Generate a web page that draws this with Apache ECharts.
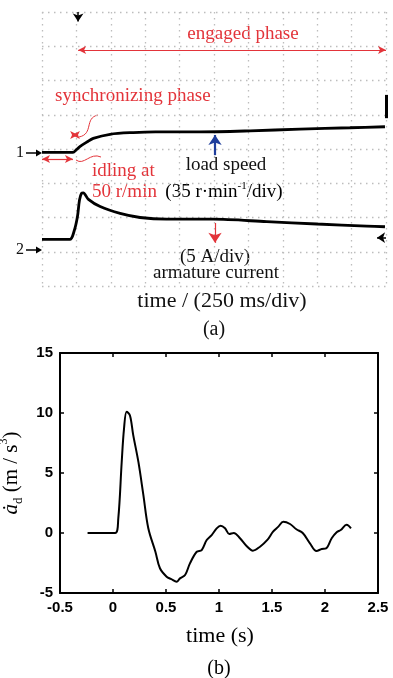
<!DOCTYPE html>
<html>
<head>
<meta charset="utf-8">
<script src="https://cdn.jsdelivr.net/npm/echarts@6/dist/echarts.min.js"></script>
<style>
  html, body { margin: 0; padding: 0; background: #fff; }
  #chart { width: 393px; height: 678px; }
</style>
</head>
<body>
<div id="chart"></div>
<script>
// (a) oscilloscope traces, in screen divisions (10 x 8)
const speedT = [0, 0.9, 1.0, 1.1, 1.3, 1.49, 1.98, 2.65, 3.3, 4.59, 6.05, 7.5, 8.95, 9.97]
const speedV = [3.9, 3.9, 3.98, 4.07, 4.2, 4.31, 4.43, 4.48, 4.5, 4.5, 4.53, 4.58, 4.62, 4.65]
const currentT = [0, 0.81, 0.93, 1.03, 1.09, 1.15, 1.2, 1.35, 1.69, 2.27, 2.85, 3.62, 4.98, 6.53, 7.99, 9.44, 9.97]
const currentV = [1.36, 1.36, 1.59, 2.02, 2.51, 2.71, 2.72, 2.53, 2.32, 2.12, 2.0, 1.95, 1.95, 1.88, 1.81, 1.75, 1.73]

// (b) jerk of the load
const timeS = [-0.24, 0.02, 0.05, 0.082, 0.104, 0.129, 0.16, 0.19, 0.24, 0.286, 0.333, 0.4, 0.443, 0.506, 0.55, 0.6, 0.632, 0.68, 0.726, 0.79, 0.837, 0.884, 0.931, 0.978, 1.016, 1.057, 1.097, 1.14, 1.198, 1.26, 1.32, 1.387, 1.456, 1.51, 1.56, 1.607, 1.67, 1.73, 1.79, 1.858, 1.92, 1.969, 2.01, 2.063, 2.11, 2.148, 2.204, 2.245]
const jerk = [0, 0, 1.22, 5.9, 8.7, 10.1, 9.8, 8.2, 5.9, 3.2, 0.39, -1.56, -2.94, -3.64, -3.85, -4.06, -3.78, -3.5, -2.53, -1.56, -1.42, -0.58, -0.17, 0.39, 0.61, 0.39, -0.08, 0, -0.44, -1.08, -1.47, -1.14, -0.58, 0.11, 0.53, 0.94, 0.75, 0.31, 0, -0.86, -1.5, -1.33, -1.28, -0.44, 0.06, 0.25, 0.69, 0.39]

const zip = (a, b) => a.map((v, i) => [v, b[i]])

const RED = '#e3343a'
const BLUE = '#1f3e9c'
const SERIF = '"Liberation Serif", "DejaVu Serif", serif'

const myChart = echarts.init(document.getElementById('chart'))

// 示波器网格
const scopeAxis = (max) => ({
  type: 'value',
  min: 0,
  max: max,
  interval: 1,
  axisLine: { show: false },
  axisTick: { show: false },
  axisLabel: { show: false },
  splitLine: {
    show: true,
    showMinLine: true,
    showMaxLine: true,
    lineStyle: { color: '#bdbdbd', type: [1.5, 4.5], width: 1.3 }
  }
})

const boxAxis = (extra) => Object.assign({
  type: 'value',
  axisLine: { show: true, onZero: false, lineStyle: { color: '#000', width: 2 } },
  axisTick: { show: true, inside: true, length: 4, lineStyle: { color: '#000', width: 1.5 } },
  splitLine: { show: false }
}, extra)

const tickLabel = {
  color: '#000',
  fontFamily: '"Liberation Sans", Arial, sans-serif',
  fontWeight: 'bold',
  fontSize: 15
}

const txt = (text, x, y, opt) => ({
  type: 'text',
  x: x,
  y: y,
  style: Object.assign({
    text: text,
    font: '19px ' + SERIF,
    fill: '#111',
    textAlign: 'center',
    textVerticalAlign: 'middle'
  }, opt || {})
})

const sideArrow = (label, y) => ({
  type: 'group',
  children: [
    txt(label, 20, y, { font: '16px ' + SERIF }),
    { type: 'line', shape: { x1: 26, y1: y, x2: 37, y2: y }, style: { stroke: '#000', lineWidth: 1.5 } },
    { type: 'polygon', shape: { points: [[36, y - 3.5], [42, y], [36, y + 3.5]] }, style: { fill: '#000' } }
  ]
})

const option = {
  animation: false,
  grid: [
    { left: 42, top: 12, width: 344, height: 274, outerBoundsMode: 'none', containLabel: false },
    { left: 60, top: 353, width: 318, height: 240, outerBoundsMode: 'none', containLabel: false }
  ],
  xAxis: [
    Object.assign(scopeAxis(10), { gridIndex: 0 }),
    boxAxis({
      gridIndex: 1, min: -0.5, max: 2.5, interval: 0.5, position: 'bottom',
      axisLabel: Object.assign({ margin: 7 }, tickLabel)
    }),
    boxAxis({ gridIndex: 1, min: -0.5, max: 2.5, interval: 0.5, position: 'top', axisLabel: { show: false } })
  ],
  yAxis: [
    Object.assign(scopeAxis(8), { gridIndex: 0 }),
    boxAxis({
      gridIndex: 1, min: -5, max: 15, interval: 5, position: 'left',
      axisLabel: Object.assign({ margin: 7 }, tickLabel),
      name: '{a|ȧ}{d|d}{n| (m / s}{s|3}{n|)}',
      nameLocation: 'middle',
      nameRotate: 90,
      nameGap: 34,
      nameTextStyle: {
        rich: {
          a: { fontFamily: SERIF, fontStyle: 'italic', fontSize: 21, color: '#000', lineHeight: 28 },
          d: { fontFamily: SERIF, fontSize: 13, color: '#000', lineHeight: 13, verticalAlign: 'bottom' },
          n: { fontFamily: SERIF, fontSize: 21, color: '#000', lineHeight: 28 },
          s: { fontFamily: SERIF, fontSize: 12, color: '#000', lineHeight: 12, verticalAlign: 'top' }
        }
      }
    }),
    boxAxis({ gridIndex: 1, min: -5, max: 15, interval: 5, position: 'right', axisLabel: { show: false } })
  ],
  series: [
    {
      name: 'load speed',
      type: 'line',
      xAxisIndex: 0,
      yAxisIndex: 0,
      data: zip(speedT, speedV),
      showSymbol: false,
      smooth: 0.3,
      lineStyle: { color: '#000', width: 2.8 }
    },
    {
      name: 'armature current',
      type: 'line',
      xAxisIndex: 0,
      yAxisIndex: 0,
      data: zip(currentT, currentV),
      showSymbol: false,
      smooth: 0.3,
      lineStyle: { color: '#000', width: 2.8 }
    },
    {
      // 红色标注箭头
      type: 'line',
      xAxisIndex: 0,
      yAxisIndex: 0,
      data: [],
      clip: false,
      markLine: {
        silent: true,
        symbol: ['arrow', 'arrow'],
        symbolSize: [6, 8],
        label: { show: false },
        lineStyle: { color: RED, width: 1.2, type: 'solid' },
        data: [
          [{ coord: [1.05, 6.89] }, { coord: [10, 6.89] }],
          [{ coord: [0, 3.71] }, { coord: [0.9, 3.71] }],
          [{ coord: [0.87, 4.41] }, { coord: [1.05, 4.41] }],
          [{ coord: [5.03, 1.84], symbol: 'none' }, { coord: [5.03, 1.26], symbol: 'arrow', symbolSize: 10 }]
        ]
      }
    },
    {
      // 蓝色箭头
      type: 'line',
      xAxisIndex: 0,
      yAxisIndex: 0,
      data: [],
      clip: false,
      markLine: {
        silent: true,
        symbol: ['none', 'arrow'],
        symbolSize: 10,
        label: { show: false },
        lineStyle: { color: BLUE, width: 2.2, type: 'solid' },
        data: [[{ coord: [5.03, 3.82] }, { coord: [5.03, 4.41] }]]
      }
    },
    {
      // 黑色标记
      type: 'line',
      xAxisIndex: 0,
      yAxisIndex: 0,
      data: [],
      clip: false,
      markLine: {
        silent: true,
        symbol: ['none', 'arrow'],
        symbolSize: 8,
        label: { show: false },
        lineStyle: { color: '#000', width: 1.5, type: 'solid' },
        data: [
          [{ coord: [1.05, 8] }, { coord: [1.05, 7.72] }],
          [{ coord: [10, 1.41] }, { coord: [9.74, 1.41] }],
          [{ coord: [10, 4.9], symbol: 'none' }, { coord: [10, 5.58], symbol: 'none', lineStyle: { width: 3 } }]
        ]
      }
    },
    {
      name: 'jerk',
      type: 'line',
      xAxisIndex: 1,
      yAxisIndex: 1,
      data: zip(timeS, jerk),
      showSymbol: false,
      smooth: 0.35,
      lineStyle: { color: '#000', width: 2 }
    }
  ],
  graphic: [
    txt('engaged phase', 243, 34, { fill: RED }),
    txt('synchronizing phase', 55, 96, { fill: RED, textAlign: 'left' }),
    txt('idling at', 92, 171, { fill: RED, textAlign: 'left' }),
    txt('50 r/min', 92, 192, { fill: RED, textAlign: 'left' }),
    {
      type: 'bezierCurve',
      shape: { x1: 98, y1: 115, cpx1: 84, cpy1: 118, cpx2: 94, cpy2: 134, x2: 79, y2: 137 },
      style: { stroke: RED, lineWidth: 1, fill: null }
    },
    {
      type: 'bezierCurve',
      shape: { x1: 76, y1: 160, cpx1: 84, cpy1: 166, cpx2: 90, cpy2: 152, x2: 101, y2: 157 },
      style: { stroke: RED, lineWidth: 1, fill: null }
    },
    txt('load speed', 226, 165),
    {
      type: 'text',
      x: 224,
      y: 192,
      style: {
        text: '{n|(35 r·min}{s|-1}{n|/div)}',
        textAlign: 'center',
        textVerticalAlign: 'middle',
        rich: {
          n: { fontFamily: SERIF, fontSize: 19, color: '#111', lineHeight: 22 },
          s: { fontFamily: SERIF, fontSize: 11, color: '#111', lineHeight: 11, verticalAlign: 'top' }
        }
      }
    },
    txt('(5 A/div)', 215, 257),
    txt('armature current', 216, 273),
    txt('time / (250 ms/div)', 222, 301, { font: '22px ' + SERIF }),
    txt('(a)', 214, 330, { font: '20px ' + SERIF }),
    sideArrow('1', 153),
    sideArrow('2', 250),
    txt('time (s)', 220, 636, { font: '22px ' + SERIF, fill: '#000' }),
    txt('(b)', 219, 669, { font: '20px ' + SERIF, fill: '#000' })
  ]
}

myChart.setOption(option)
window.addEventListener('resize', () => {
  myChart.resize()
})
</script>
</body>
</html>
